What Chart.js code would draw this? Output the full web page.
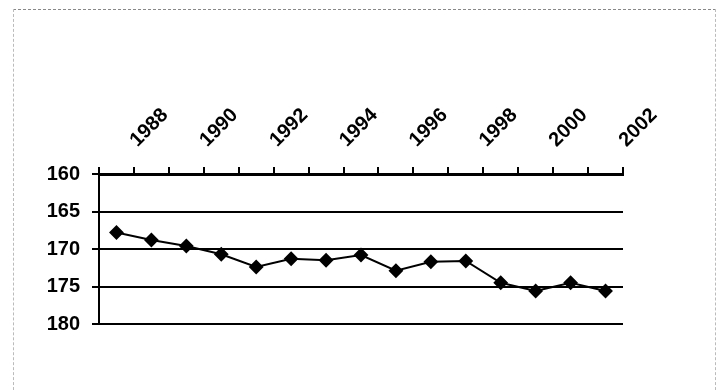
<!DOCTYPE html>
<html>
<head>
<meta charset="utf-8">
<script src="https://cdn.jsdelivr.net/npm/chart.js@4"></script>
<style>
  body { margin: 0; background: #fff; }
  #frame {
    position: absolute; left: 13px; top: 9px; width: 701px; height: 390px;
    border-top: 1px dashed #888; border-left: 1px dashed #bbb; border-right: 1px dashed #bbb;
  }
  #chart { position: absolute; left: 0; top: 0; }
</style>
</head>
<body>
<div id="frame"></div>
<canvas id="chart" width="721" height="390"></canvas>
<script>
const years = ['1988', '1989', '1990', '1991', '1992', '1993', '1994', '1995',
               '1996', '1997', '1998', '1999', '2000', '2001', '2002'];
const heights = [167.8, 168.8, 169.6, 170.7, 172.4, 171.3, 171.5, 170.8,
                 172.9, 171.7, 171.6, 174.5, 175.6, 174.5, 175.6];
const yMin = 160;
const yMax = 180;
const yStep = 5;

const labelFont = { family: 'Liberation Sans', size: 20, weight: 'bold' };

new Chart(document.getElementById('chart'), {
    type: 'line',
    data: {
        labels: years,
        datasets: [{
            data: heights,
            borderColor: '#000',
            borderWidth: 2,
            backgroundColor: '#000',
            pointStyle: 'rectRot',
            pointRadius: 6,
            pointBackgroundColor: '#000',
            pointBorderColor: '#000',
            tension: 0,
            clip: false
        }]
    },
    options: {
        responsive: false,
        animation: false,
        layout: { padding: { left: 0, top: 0, right: 98, bottom: 66 } },
        plugins: {
            legend: { display: false },
            tooltip: { enabled: false }
        },
        scales: {
            x: {
                position: 'top',
                offset: true,
                grid: { offset: true, drawOnChartArea: false, drawTicks: true, tickLength: 7, color: '#000', lineWidth: 2 },
                border: { color: '#000', width: 3 },
                ticks: {
                    autoSkip: false,
                    minRotation: 45,
                    maxRotation: 45,
                    labelOffset: 34,
                    padding: 15,
                    color: '#000',
                    font: labelFont,
                    callback: (value, index) => index % 2 === 0 ? years[index] : ''
                },
                afterFit: scale => { scale.height = 174; }
            },
            y: {
                reverse: true,
                min: yMin,
                max: yMax,
                ticks: { stepSize: yStep, padding: 12, color: '#000', font: labelFont },
                grid: { color: '#000', lineWidth: 2, tickLength: 7 },
                border: { color: '#000', width: 2 },
                afterFit: scale => { scale.width = 99; }
            }
        }
    }
});
</script>
</body>
</html>
